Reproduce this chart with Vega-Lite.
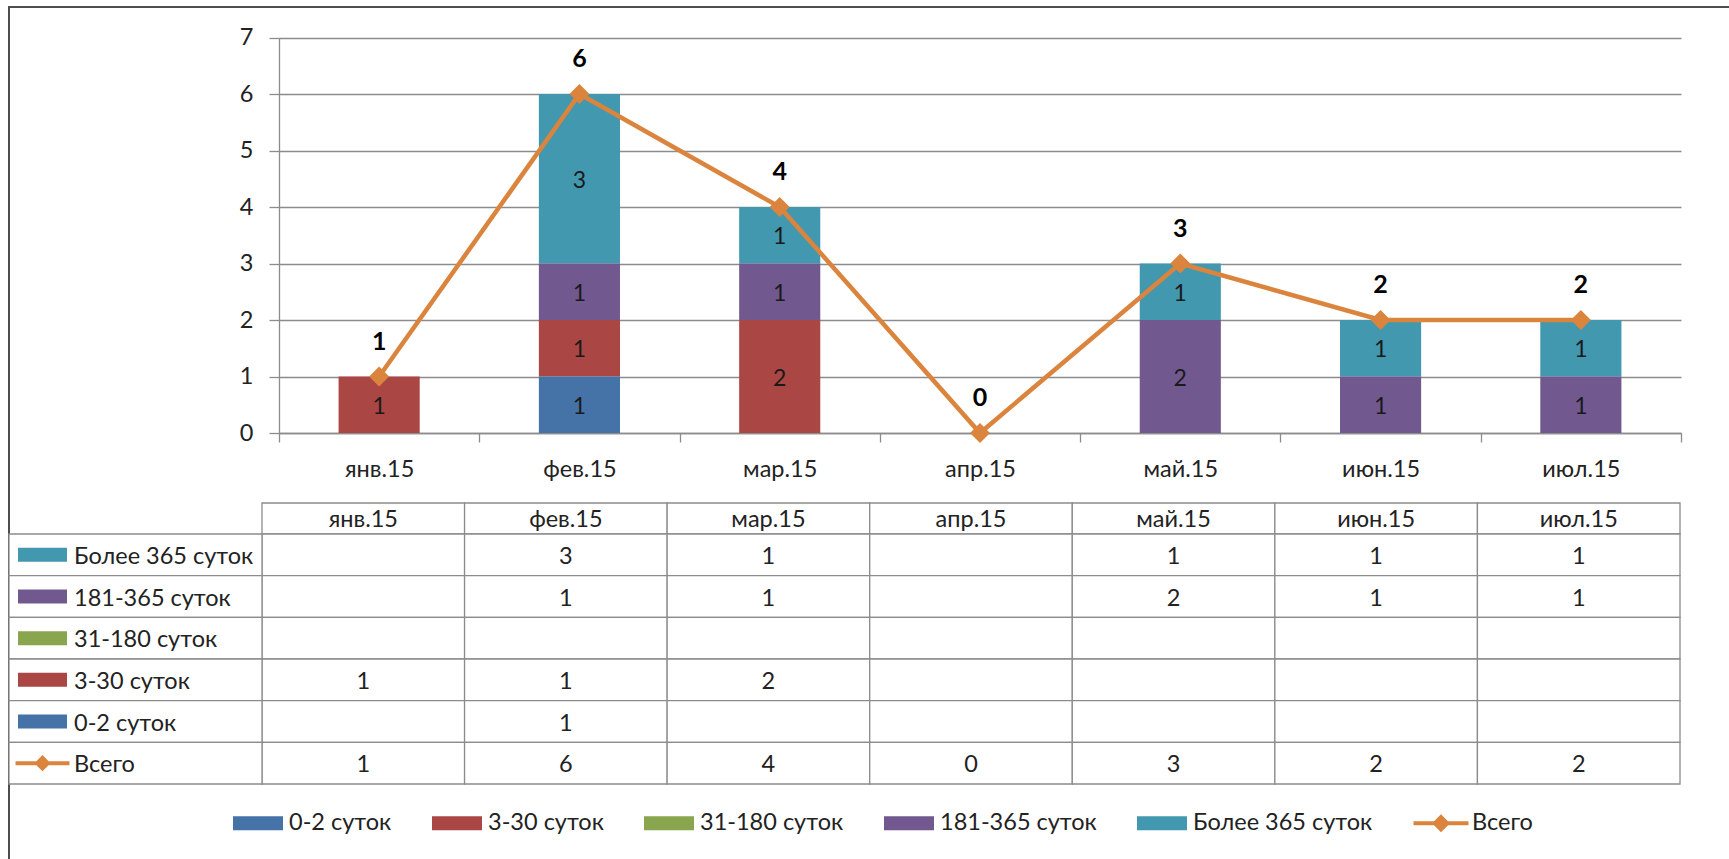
{
  "$schema": "https://vega.github.io/schema/vega-lite/v6.json",
  "width": 1721,
  "height": 853,
  "autosize": {"type": "none"},
  "padding": {"left": 9, "top": 7, "right": 0, "bottom": 0},
  "background": "white",
  "config": {
    "font": "Lato",
    "view": {"stroke": "#4d4d4d", "strokeWidth": 2, "fill": "white"},
    "text": {"font": "Lato"}
  },
  "datasets": {
    "tbl": [
      {"row": "Более 365 суток", "month": "янв.15", "value": null},
      {"row": "Более 365 суток", "month": "фев.15", "value": 3},
      {"row": "Более 365 суток", "month": "мар.15", "value": 1},
      {"row": "Более 365 суток", "month": "апр.15", "value": null},
      {"row": "Более 365 суток", "month": "май.15", "value": 1},
      {"row": "Более 365 суток", "month": "июн.15", "value": 1},
      {"row": "Более 365 суток", "month": "июл.15", "value": 1},
      {"row": "181-365 суток", "month": "янв.15", "value": null},
      {"row": "181-365 суток", "month": "фев.15", "value": 1},
      {"row": "181-365 суток", "month": "мар.15", "value": 1},
      {"row": "181-365 суток", "month": "апр.15", "value": null},
      {"row": "181-365 суток", "month": "май.15", "value": 2},
      {"row": "181-365 суток", "month": "июн.15", "value": 1},
      {"row": "181-365 суток", "month": "июл.15", "value": 1},
      {"row": "31-180 суток", "month": "янв.15", "value": null},
      {"row": "31-180 суток", "month": "фев.15", "value": null},
      {"row": "31-180 суток", "month": "мар.15", "value": null},
      {"row": "31-180 суток", "month": "апр.15", "value": null},
      {"row": "31-180 суток", "month": "май.15", "value": null},
      {"row": "31-180 суток", "month": "июн.15", "value": null},
      {"row": "31-180 суток", "month": "июл.15", "value": null},
      {"row": "3-30 суток", "month": "янв.15", "value": 1},
      {"row": "3-30 суток", "month": "фев.15", "value": 1},
      {"row": "3-30 суток", "month": "мар.15", "value": 2},
      {"row": "3-30 суток", "month": "апр.15", "value": null},
      {"row": "3-30 суток", "month": "май.15", "value": null},
      {"row": "3-30 суток", "month": "июн.15", "value": null},
      {"row": "3-30 суток", "month": "июл.15", "value": null},
      {"row": "0-2 суток", "month": "янв.15", "value": null},
      {"row": "0-2 суток", "month": "фев.15", "value": 1},
      {"row": "0-2 суток", "month": "мар.15", "value": null},
      {"row": "0-2 суток", "month": "апр.15", "value": null},
      {"row": "0-2 суток", "month": "май.15", "value": null},
      {"row": "0-2 суток", "month": "июн.15", "value": null},
      {"row": "0-2 суток", "month": "июл.15", "value": null},
      {"row": "Всего", "month": "янв.15", "value": 1},
      {"row": "Всего", "month": "фев.15", "value": 6},
      {"row": "Всего", "month": "мар.15", "value": 4},
      {"row": "Всего", "month": "апр.15", "value": 0},
      {"row": "Всего", "month": "май.15", "value": 3},
      {"row": "Всего", "month": "июн.15", "value": 2},
      {"row": "Всего", "month": "июл.15", "value": 2}
    ]
  },
  "data": {"name": "tbl"},
  "resolve": {"scale": {"x": "independent", "y": "independent"}},
  "layer": [
    {
      "transform": [
        {"filter": "datum.row !== 'Всего' && isValid(datum.value)"},
        {"calculate": "indexof(['0-2 суток','3-30 суток','31-180 суток','181-365 суток','Более 365 суток'], datum.row)", "as": "k"}
      ],
      "mark": {"type": "bar", "width": {"band": 0.405}},
      "encoding": {
        "x": {
          "field": "month", "type": "nominal",
          "scale": {"type": "band", "domain": ["янв.15", "фев.15", "мар.15", "апр.15", "май.15", "июн.15", "июл.15"], "range": [270, 1672], "paddingInner": 0, "paddingOuter": 0},
          "axis": {
            "orient": "bottom", "offset": -427, "title": null, "labelAngle": 0,
            "tickBand": "extent", "tickSize": 9, "tickColor": "#8c8c8c", "tickWidth": 1.3,
            "domainColor": "#8c8c8c", "domainWidth": 1.3,
            "labelFont": "Lato", "labelFontSize": 23.5, "labelColor": "#222222", "labelPadding": 15
          }
        },
        "y": {
          "field": "value", "type": "quantitative", "stack": "zero",
          "scale": {"domain": [0, 7], "range": [426, 30.5], "nice": false, "zero": true},
          "axis": {
            "orient": "left", "offset": -270, "title": null, "values": [0, 1, 2, 3, 4, 5, 6, 7],
            "grid": true, "gridColor": "#8c8c8c", "gridWidth": 1.3,
            "tickSize": 10, "tickColor": "#8c8c8c", "tickWidth": 1.3,
            "domainColor": "#8c8c8c", "domainWidth": 1.3,
            "labelFont": "Lato", "labelFontSize": 23.5, "labelColor": "#222222", "labelPadding": 16
          }
        },
        "color": {
          "field": "row", "type": "nominal",
          "scale": {
            "domain": ["0-2 суток", "3-30 суток", "31-180 суток", "181-365 суток", "Более 365 суток", "Всего"],
            "range": ["#4572A7", "#AA4643", "#89A54E", "#71588F", "#4198AF", "#DB843D"]
          },
          "legend": {
            "orient": "none", "legendX": 224, "legendY": 791,
            "direction": "horizontal", "columns": 6, "title": null, "padding": 0,
            "symbolSize": 2500, "symbolType": "M-1,-0.28H1V0.28H-1Z", "symbolStrokeWidth": 0,
            "labelFont": "Lato", "labelFontSize": 23.5, "labelColor": "#222222", "labelLimit": 400,
            "labelOffset": 6, "columnPadding": 40,
            "encode": {
              "symbols": {
                "update": {
                  "shape": {"signal": "datum.value === 'Всего' ? 'M-1.1,-0.08H1.1V0.08H-1.1Z M0,-0.36L0.36,0L0,0.36L-0.36,0Z' : 'M-1,-0.28H1V0.28H-1Z'"}
                }
              }
            }
          }
        },
        "order": {"field": "k", "type": "quantitative"}
      }
    },
    {
      "transform": [
        {"filter": "datum.row !== 'Всего' && isValid(datum.value)"},
        {"calculate": "indexof(['0-2 суток','3-30 суток','31-180 суток','181-365 суток','Более 365 суток'], datum.row)", "as": "k"},
        {"stack": "value", "groupby": ["month"], "sort": [{"field": "k", "order": "ascending"}], "as": ["v0", "v1"]},
        {"calculate": "(datum.v0 + datum.v1) / 2", "as": "mid"}
      ],
      "mark": {"type": "text", "fontSize": 23, "baseline": "middle", "dy": 2, "color": "#1a1a1a"},
      "encoding": {
        "x": {
          "field": "month", "type": "nominal", "axis": null,
          "scale": {"type": "band", "domain": ["янв.15", "фев.15", "мар.15", "апр.15", "май.15", "июн.15", "июл.15"], "range": [270, 1672], "paddingInner": 0, "paddingOuter": 0}
        },
        "y": {"field": "mid", "type": "quantitative", "axis": null, "scale": {"domain": [0, 7], "range": [426, 30.5], "nice": false, "zero": true}},
        "text": {"field": "value", "type": "quantitative"}
      }
    },
    {
      "transform": [{"filter": "datum.row === 'Всего'"}],
      "mark": {"type": "line", "color": "#DB843D", "strokeWidth": 4.5},
      "encoding": {
        "x": {
          "field": "month", "type": "nominal", "axis": null,
          "scale": {"type": "band", "domain": ["янв.15", "фев.15", "мар.15", "апр.15", "май.15", "июн.15", "июл.15"], "range": [270, 1672], "paddingInner": 0, "paddingOuter": 0}
        },
        "y": {"field": "value", "type": "quantitative", "axis": null, "scale": {"domain": [0, 7], "range": [426, 30.5], "nice": false, "zero": true}}
      }
    },
    {
      "transform": [{"filter": "datum.row === 'Всего'"}],
      "mark": {"type": "point", "shape": "diamond", "filled": true, "size": 400, "color": "#DB843D", "opacity": 1},
      "encoding": {
        "x": {
          "field": "month", "type": "nominal", "axis": null,
          "scale": {"type": "band", "domain": ["янв.15", "фев.15", "мар.15", "апр.15", "май.15", "июн.15", "июл.15"], "range": [270, 1672], "paddingInner": 0, "paddingOuter": 0}
        },
        "y": {"field": "value", "type": "quantitative", "axis": null, "scale": {"domain": [0, 7], "range": [426, 30.5], "nice": false, "zero": true}}
      }
    },
    {
      "transform": [{"filter": "datum.row === 'Всего'"}],
      "mark": {"type": "text", "fontSize": 25, "fontWeight": "bold", "baseline": "alphabetic", "dy": -27, "color": "#000000"},
      "encoding": {
        "x": {
          "field": "month", "type": "nominal", "axis": null,
          "scale": {"type": "band", "domain": ["янв.15", "фев.15", "мар.15", "апр.15", "май.15", "июн.15", "июл.15"], "range": [270, 1672], "paddingInner": 0, "paddingOuter": 0}
        },
        "y": {"field": "value", "type": "quantitative", "axis": null, "scale": {"domain": [0, 7], "range": [426, 30.5], "nice": false, "zero": true}},
        "text": {"field": "value", "type": "quantitative"}
      }
    },
    {
      "transform": [{"filter": "datum.row === 'Всего'"}],
      "layer": [
        {
          "mark": {"type": "rect", "fill": "white", "stroke": "#8c8c8c", "strokeWidth": 1.3},
          "encoding": {
            "x": {
              "field": "month", "type": "nominal", "axis": null,
              "scale": {"type": "band", "domain": ["янв.15", "фев.15", "мар.15", "апр.15", "май.15", "июн.15", "июл.15"], "range": [253, 1671], "paddingInner": 0, "paddingOuter": 0}
            },
            "y": {"datum": "hdr", "type": "nominal", "axis": null, "scale": {"type": "band", "domain": ["hdr"], "range": [496, 527], "paddingInner": 0, "paddingOuter": 0}}
          }
        },
        {
          "mark": {"type": "text", "fontSize": 23.5, "baseline": "middle", "dy": 1, "color": "#222222"},
          "encoding": {
            "x": {"field": "month", "type": "nominal", "axis": null},
            "y": {"datum": "hdr", "type": "nominal", "axis": null},
            "text": {"field": "month", "type": "nominal"}
          }
        }
      ]
    },
    {
      "layer": [
        {
          "mark": {"type": "rect", "fill": "white", "stroke": "#8c8c8c", "strokeWidth": 1.3},
          "encoding": {
            "x": {
              "field": "month", "type": "nominal", "axis": null,
              "scale": {"type": "band", "domain": ["янв.15", "фев.15", "мар.15", "апр.15", "май.15", "июн.15", "июл.15"], "range": [253, 1671], "paddingInner": 0, "paddingOuter": 0}
            },
            "y": {
              "field": "row", "type": "nominal", "axis": null,
              "scale": {"type": "band", "domain": ["Более 365 суток", "181-365 суток", "31-180 суток", "3-30 суток", "0-2 суток", "Всего"], "range": [527, 777], "paddingInner": 0, "paddingOuter": 0}
            }
          }
        },
        {
          "transform": [{"filter": "isValid(datum.value)"}],
          "mark": {"type": "text", "fontSize": 23.5, "baseline": "middle", "dy": 2, "color": "#222222"},
          "encoding": {
            "x": {"field": "month", "type": "nominal", "axis": null},
            "y": {"field": "row", "type": "nominal", "axis": null},
            "text": {"field": "value", "type": "quantitative"}
          }
        }
      ]
    },
    {
      "transform": [{"filter": "datum.month === 'янв.15'"}],
      "resolve": {"scale": {"x": "independent"}},
      "layer": [
        {
          "mark": {"type": "rect", "fill": "white", "stroke": "#8c8c8c", "strokeWidth": 1.3},
          "encoding": {
            "x": {"datum": "lbl", "type": "nominal", "axis": null, "scale": {"type": "band", "domain": ["lbl"], "range": [0, 253], "paddingInner": 0, "paddingOuter": 0}},
            "y": {
              "field": "row", "type": "nominal", "axis": null,
              "scale": {"type": "band", "domain": ["Более 365 суток", "181-365 суток", "31-180 суток", "3-30 суток", "0-2 суток", "Всего"], "range": [527, 777], "paddingInner": 0, "paddingOuter": 0}
            }
          }
        },
        {
          "layer": [
            {
              "mark": {"type": "point", "filled": true, "size": 2401, "opacity": 1, "strokeWidth": 0},
              "encoding": {
                "x": {"datum": "sw", "type": "nominal", "axis": null, "scale": {"type": "band", "domain": ["sw"], "range": [8.5, 58.5], "paddingInner": 0, "paddingOuter": 0}},
                "y": {"field": "row", "type": "nominal", "axis": null},
                "fill": {
                  "field": "row", "type": "nominal", "legend": null,
                  "scale": {
                    "domain": ["0-2 суток", "3-30 суток", "31-180 суток", "181-365 суток", "Более 365 суток", "Всего"],
                    "range": ["#4572A7", "#AA4643", "#89A54E", "#71588F", "#4198AF", "#DB843D"]
                  }
                },
                "shape": {
                  "field": "row", "type": "nominal", "legend": null,
                  "scale": {
                    "domain": ["Более 365 суток", "181-365 суток", "31-180 суток", "3-30 суток", "0-2 суток", "Всего"],
                    "range": ["M-1,-0.2857H1V0.2857H-1Z", "M-1,-0.2857H1V0.2857H-1Z", "M-1,-0.2857H1V0.2857H-1Z", "M-1,-0.2857H1V0.2857H-1Z", "M-1,-0.2857H1V0.2857H-1Z", "M-1.1,-0.08H1.1V0.08H-1.1Z M0,-0.33L0.33,0L0,0.33L-0.33,0Z"]
                  }
                }
              }
            },
            {
              "mark": {"type": "text", "fontSize": 23.5, "align": "left", "baseline": "middle", "dx": 31.5, "dy": 2, "color": "#222222"},
              "encoding": {
                "x": {"datum": "sw", "type": "nominal", "axis": null},
                "y": {"field": "row", "type": "nominal", "axis": null},
                "text": {"field": "row", "type": "nominal"}
              }
            }
          ]
        }
      ]
    }
  ]
}
